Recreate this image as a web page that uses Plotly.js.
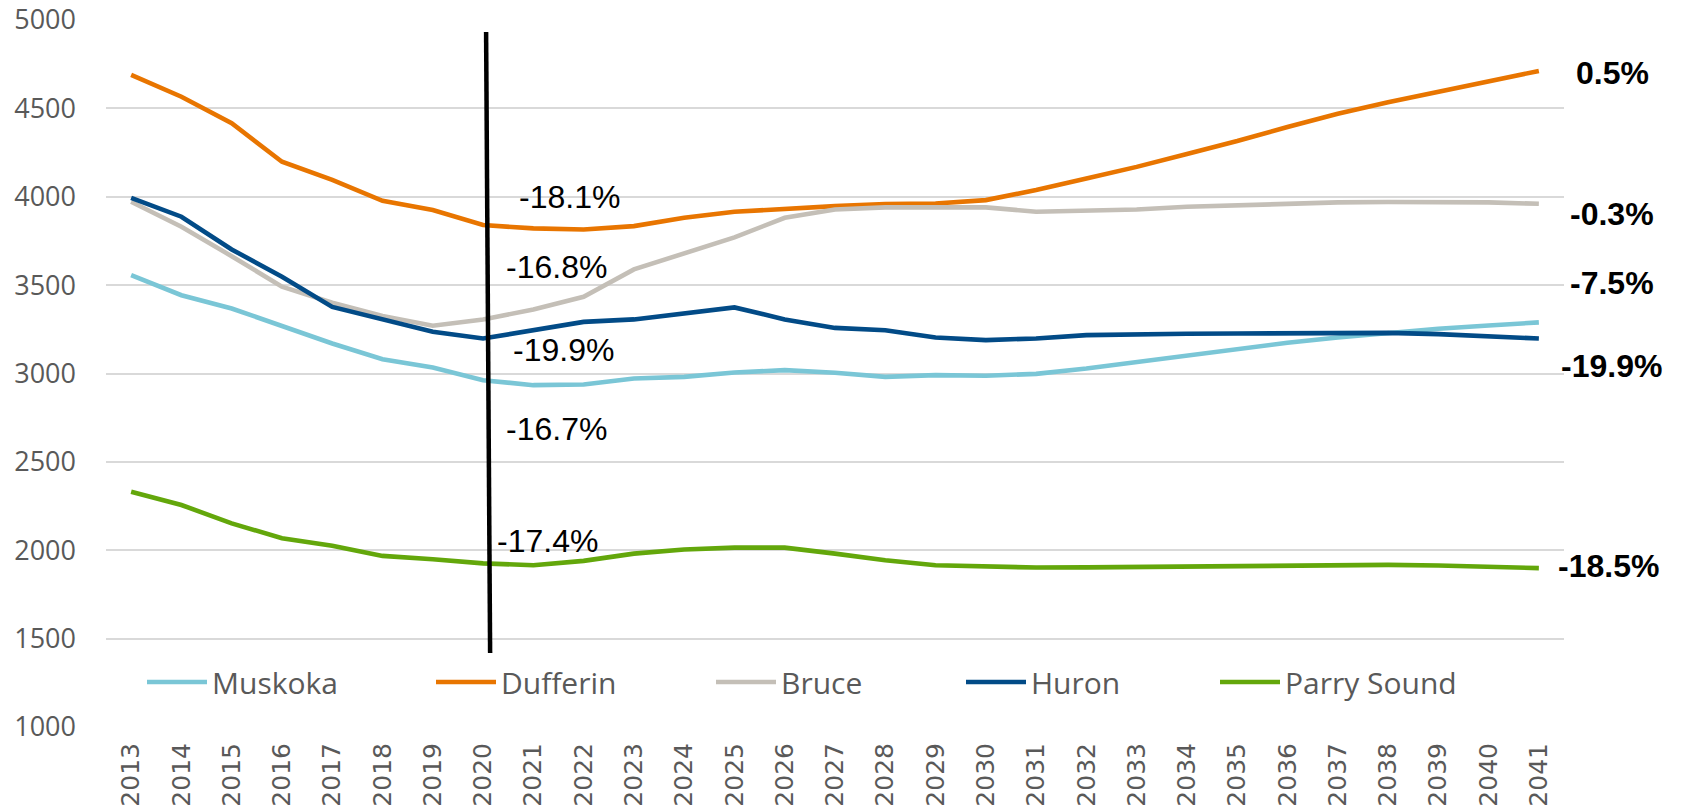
<!DOCTYPE html>
<html>
<head>
<meta charset="utf-8">
<script src="https://cdn.plot.ly/plotly-3.0.1.min.js"></script>
<style>
  html, body { margin: 0; padding: 0; background: #fff; }
  #chart { width: 1683px; height: 812px; }
</style>
</head>
<body>
<div id="chart"></div>
<script>
// years on the category axis
const years = ['2013','2014','2015','2016','2017','2018','2019','2020','2021','2022',
  '2023','2024','2025','2026','2027','2028','2029','2030','2031','2032','2033',
  '2034','2035','2036','2037','2038','2039','2040','2041'];

// series values
const muskoka = [3557, 3443, 3368, 3270, 3170, 3081, 3034, 2962, 2934, 2938, 2972, 2981, 3006, 3019, 3004,
  2981, 2991, 2987, 2998, 3028, 3066, 3104, 3140, 3174, 3204, 3230, 3253, 3272, 3289];
const dufferin = [4689, 4566, 4416, 4198, 4095, 3977, 3925, 3840, 3821, 3815, 3834, 3881, 3915, 3934, 3947,
  3958, 3962, 3981, 4038, 4103, 4169, 4242, 4315, 4395, 4470, 4535, 4595, 4655, 4712];
const bruce = [3972, 3830, 3664, 3491, 3400, 3325, 3270, 3306, 3362, 3434, 3589, 3679, 3770, 3881, 3928,
  3940, 3943, 3940, 3915, 3921, 3928, 3943, 3953, 3962, 3968, 3970, 3970, 3968, 3960];
const huron = [3994, 3887, 3702, 3547, 3377, 3306, 3236, 3198, 3245, 3292, 3306, 3340, 3374, 3306, 3258,
  3245, 3204, 3189, 3198, 3217, 3223, 3225, 3226, 3228, 3230, 3230, 3223, 3213, 3198];
const parrySound = [2331, 2256, 2152, 2068, 2026, 1968, 1949, 1926, 1915, 1940, 1981, 2004, 2015, 2015, 1981,
  1943, 1915, 1906, 1902, 1903, 1906, 1908, 1912, 1914, 1917, 1917, 1914, 1909, 1899];

const seriesNames = ['Muskoka', 'Dufferin', 'Bruce', 'Huron', 'Parry Sound'];
const seriesValues = [muskoka, dufferin, bruce, huron, parrySound];

// change labels: 2013->2020 and 2013->2041
const midLabels = ['-18.1%', '-16.8%', '-19.9%', '-16.7%', '-17.4%'];
const endLabels = ['0.5%', '-0.3%', '-7.5%', '-19.9%', '-18.5%'];

const colors = ['#7AC6D6', '#E87500', '#C4BFB7', '#024B87', '#63A70B'];
const legendIds = ['legend', 'legend2', 'legend3', 'legend4', 'legend5'];
// where each legend entry's text starts (px from page left)
const legendTextLeft = [212, 501, 781, 1031, 1285];

const PLOT_L = 106, PLOT_R = 1564, PLOT_T = 20, PLOT_B = 727;
const ITEM_W = 60;   // legend symbol area

const TEXT = 'Liberation Sans, Arial, sans-serif';
const UI = 'Open Sans, Liberation Sans, sans-serif';
const GREY = '#595959';

const traces = seriesNames.map((name, i) => ({
  x: years,
  y: seriesValues[i],
  type: 'scatter',
  mode: 'lines',
  name: name,
  legend: legendIds[i],
  line: { color: colors[i], width: 4.6 },
  hoverinfo: 'skip'
}));

// label positions: middle ones in axis units, end ones in page pixels
const midPos = [[8.71, 4000], [8.47, 3604], [8.59, 3134], [8.47, 2687], [8.29, 2055]];
const endPx = [[1612, 73], [1612, 214], [1612, 283], [1611, 366], [1608, 566]];

const px2paperX = px => (px - PLOT_L) / (PLOT_R - PLOT_L);
const px2paperY = py => (PLOT_B - py) / (PLOT_B - PLOT_T);

const annotations = [];
midLabels.forEach((t, i) => annotations.push({
  x: midPos[i][0], y: midPos[i][1], xref: 'x', yref: 'y', text: t,
  showarrow: false, xanchor: 'center', yanchor: 'middle',
  font: { family: TEXT, size: 32, color: '#000' }
}));
endLabels.forEach((t, i) => annotations.push({
  x: px2paperX(endPx[i][0]), y: px2paperY(endPx[i][1]), xref: 'paper', yref: 'paper',
  text: '<b>' + t + '</b>',
  showarrow: false, xanchor: 'center', yanchor: 'middle',
  font: { family: TEXT, size: 32, color: '#000' }
}));

const layout = {
  width: 1683,
  height: 812,
  margin: { l: PLOT_L, r: 1683 - PLOT_R, t: PLOT_T, b: 812 - PLOT_B },
  paper_bgcolor: '#fff',
  plot_bgcolor: '#fff',
  showlegend: true,
  xaxis: {
    type: 'category',
    range: [-0.5, 28.5],
    showgrid: false,
    zeroline: false,
    showline: false,
    ticks: '',
    tickangle: -90,
    ticklabelstandoff: 10,
    tickfont: { family: 'DejaVu Sans, sans-serif', size: 25, color: GREY }
  },
  yaxis: {
    range: [1000, 5000],
    dtick: 500,
    tick0: 1000,
    showgrid: true,
    gridcolor: '#D9D9D9',
    gridwidth: 2,
    zeroline: false,
    showline: false,
    ticks: '',
    ticklabelstandoff: 29,
    tickfont: { family: UI, size: 27, color: GREY }
  },
  shapes: [{
    type: 'line', xref: 'x', yref: 'y',
    x0: 7.06, y0: 4932, x1: 7.14, y1: 1419,
    line: { color: '#000', width: 4.5 }
  }],
  annotations: annotations
};

legendIds.forEach((id, i) => {
  layout[id] = {
    x: px2paperX(legendTextLeft[i] - ITEM_W - 10), y: px2paperY(682),
    xanchor: 'left', yanchor: 'middle',
    orientation: 'h', bgcolor: 'rgba(0,0,0,0)', borderwidth: 0,
    itemwidth: ITEM_W,
    font: { family: UI, size: 30, color: GREY }
  };
});

Plotly.newPlot('chart', traces, layout, { displayModeBar: false, staticPlot: true });
</script>
</body>
</html>
